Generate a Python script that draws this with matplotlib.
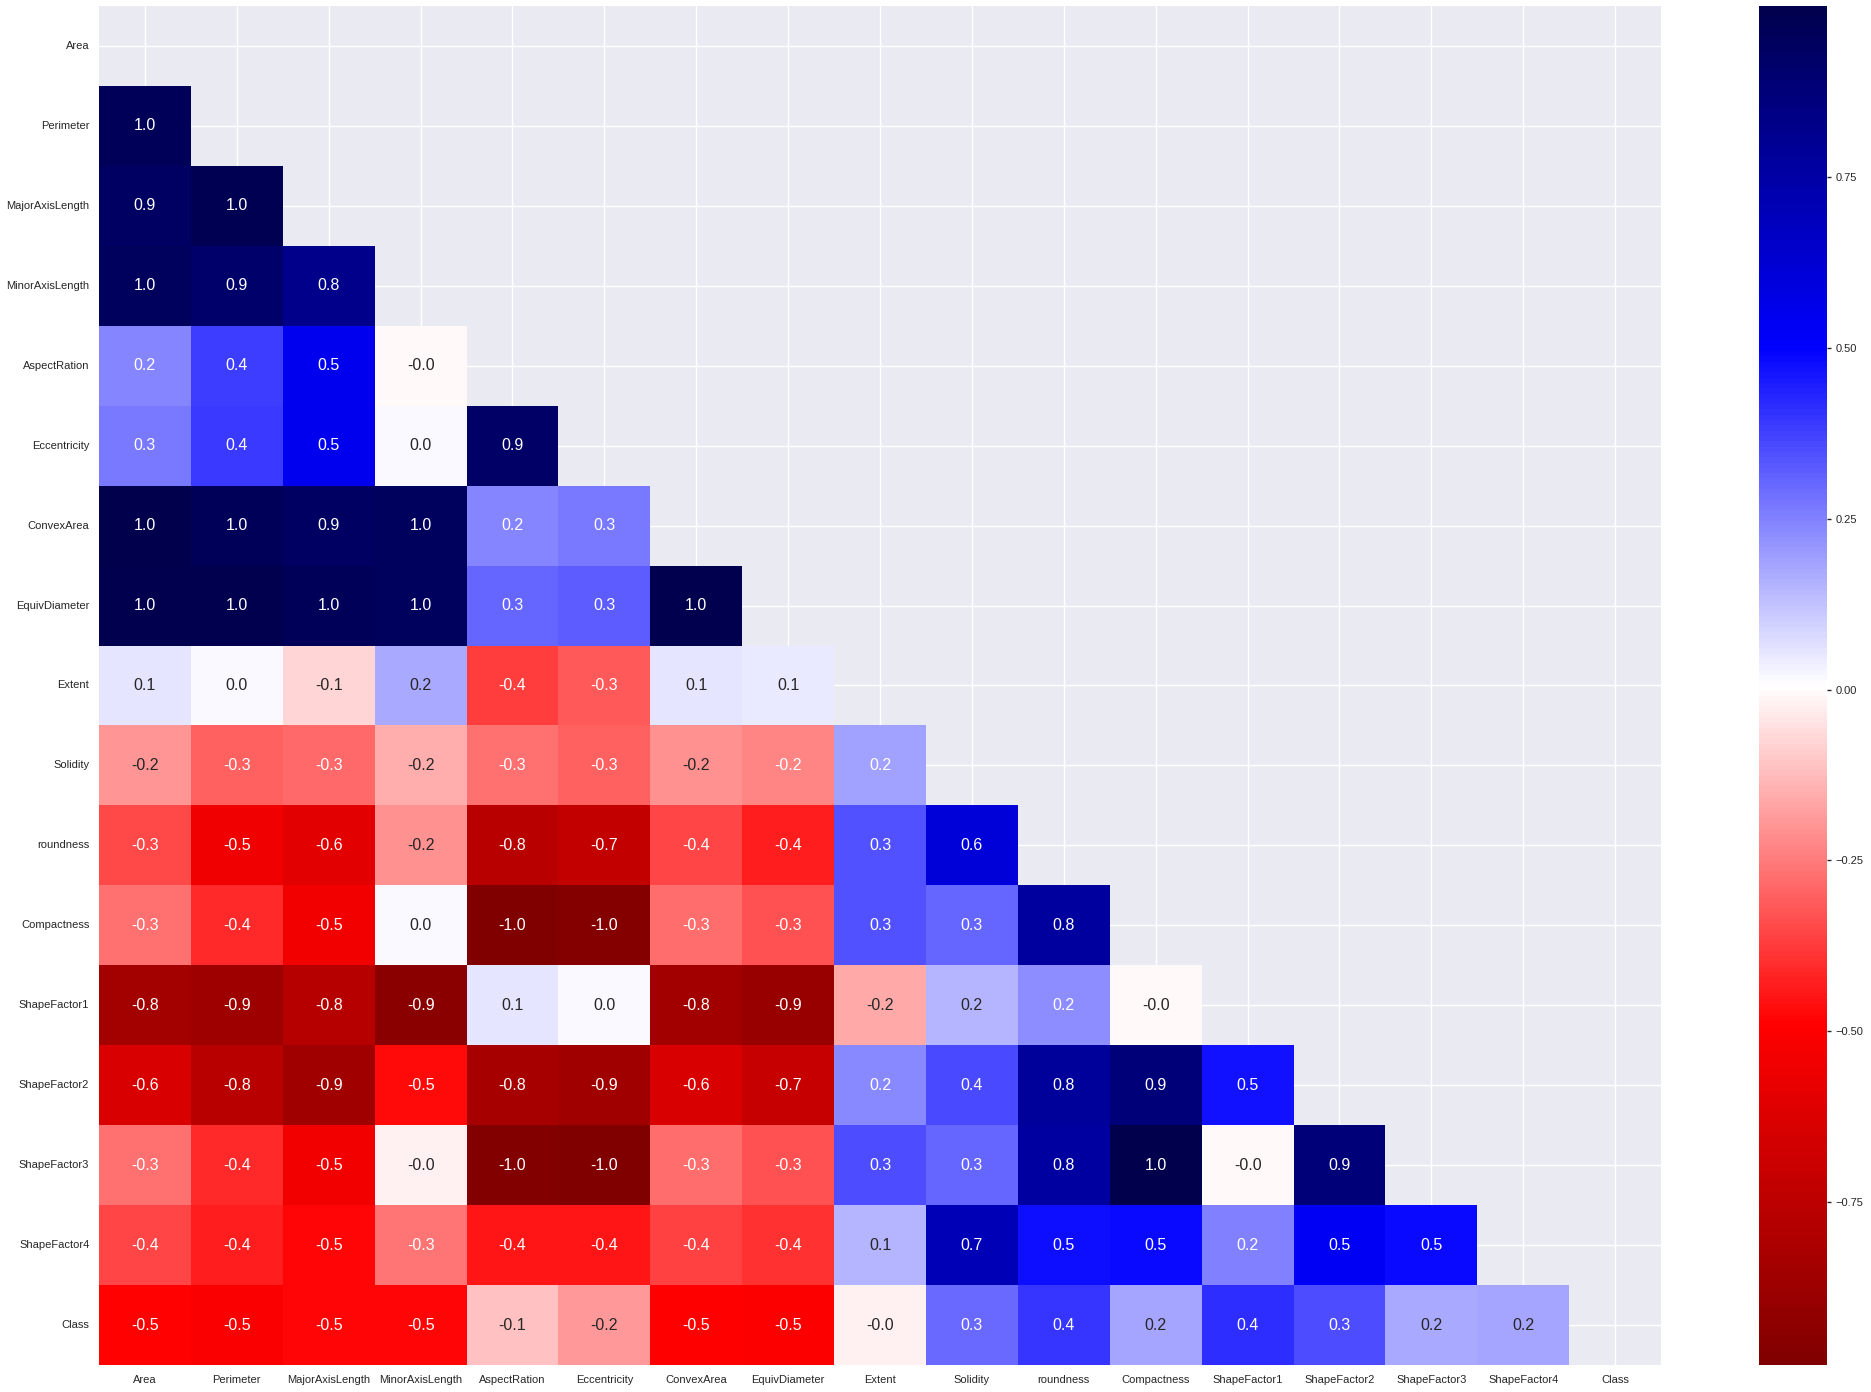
import numpy as np
import pandas as pd
import matplotlib
matplotlib.use("Agg")
import matplotlib.pyplot as plt
import seaborn as sns

features = ["Area", "Perimeter", "MajorAxisLength", "MinorAxisLength", "AspectRation",
            "Eccentricity", "ConvexArea", "EquivDiameter", "Extent", "Solidity",
            "roundness", "Compactness", "ShapeFactor1", "ShapeFactor2", "ShapeFactor3",
            "ShapeFactor4", "Class"]

# lower-triangle correlations (row feature vs. earlier features)
r_perimeter = [0.967]
r_major = [0.932, 0.977]
r_minor = [0.952, 0.913, 0.826]
r_aspect = [0.242, 0.385, 0.545, -0.009]
r_eccentricity = [0.267, 0.392, 0.542, 0.020, 0.924]
r_convex = [0.9999, 0.968, 0.933, 0.951, 0.243, 0.269]
r_equiv = [0.985, 0.991, 0.962, 0.952, 0.304, 0.319, 0.985]
r_extent = [0.060, 0.020, -0.078, 0.170, -0.370, -0.319, 0.058, 0.052]
r_solidity = [-0.197, -0.304, -0.284, -0.156, -0.268, -0.298, -0.206, -0.232, 0.191]
r_roundness = [-0.345, -0.548, -0.596, -0.210, -0.767, -0.722, -0.355, -0.436, 0.344, 0.607]
r_compactness = [-0.268, -0.407, -0.545, 0.016, -0.988, -0.970, -0.275, -0.328, 0.340, 0.304, 0.768]
r_sf1 = [-0.848, -0.865, -0.774, -0.947, 0.060, 0.020, -0.849, -0.893, -0.160, 0.153, 0.230, -0.009]
r_sf2 = [-0.639, -0.768, -0.859, -0.471, -0.838, -0.860, -0.641, -0.713, 0.238, 0.360, 0.782, 0.869, 0.469]
r_sf3 = [-0.272, -0.408, -0.545, -0.019, -0.979, -0.981, -0.278, -0.331, 0.348, 0.308, 0.763, 0.999, -0.009, 0.868]
r_sf4 = [-0.356, -0.429, -0.483, -0.264, -0.449, -0.449, -0.363, -0.393, 0.149, 0.702, 0.472, 0.484, 0.248, 0.529, 0.481]
r_class = [-0.491, -0.510, -0.480, -0.480, -0.118, -0.189, -0.492, -0.500, -0.020, 0.300, 0.400, 0.180, 0.413, 0.349, 0.170, 0.180]

rows = [[], r_perimeter, r_major, r_minor, r_aspect, r_eccentricity, r_convex, r_equiv,
        r_extent, r_solidity, r_roundness, r_compactness, r_sf1, r_sf2, r_sf3, r_sf4, r_class]

n = len(features)
mat = np.eye(n)
for i, row in enumerate(rows):
    for j, v in enumerate(row):
        mat[i, j] = v
        mat[j, i] = v
corr = pd.DataFrame(mat, index=features, columns=features)
mask = np.triu(np.ones_like(mat, dtype=bool))

sns.set_theme(style="darkgrid")
plt.rcParams["font.family"] = ["Liberation Sans", "DejaVu Sans"]

fig = plt.figure(figsize=(18.71, 13.92), dpi=100)
ax = fig.add_axes([0.0529, 0.0194, 0.8349, 0.9763])
cax = fig.add_axes([0.9401, 0.0194, 0.0363, 0.9763])

sns.heatmap(corr, mask=mask, cmap="seismic_r", annot=True, fmt=".1f",
            annot_kws={"size": 11.5}, ax=ax, cbar_ax=cax)

ax.tick_params(axis="both", length=0, pad=7, labelsize=8)
ax.set_xticklabels(features, rotation=0)
ax.set_yticklabels(features, rotation=0)
ax.grid(True, color="white", linewidth=1)
ax.set_axisbelow(True)

cax.tick_params(labelsize=8, length=3, width=1, pad=3, right=True)
for s in cax.spines.values():
    s.set_visible(False)

fig.savefig("out.png", dpi=100)
